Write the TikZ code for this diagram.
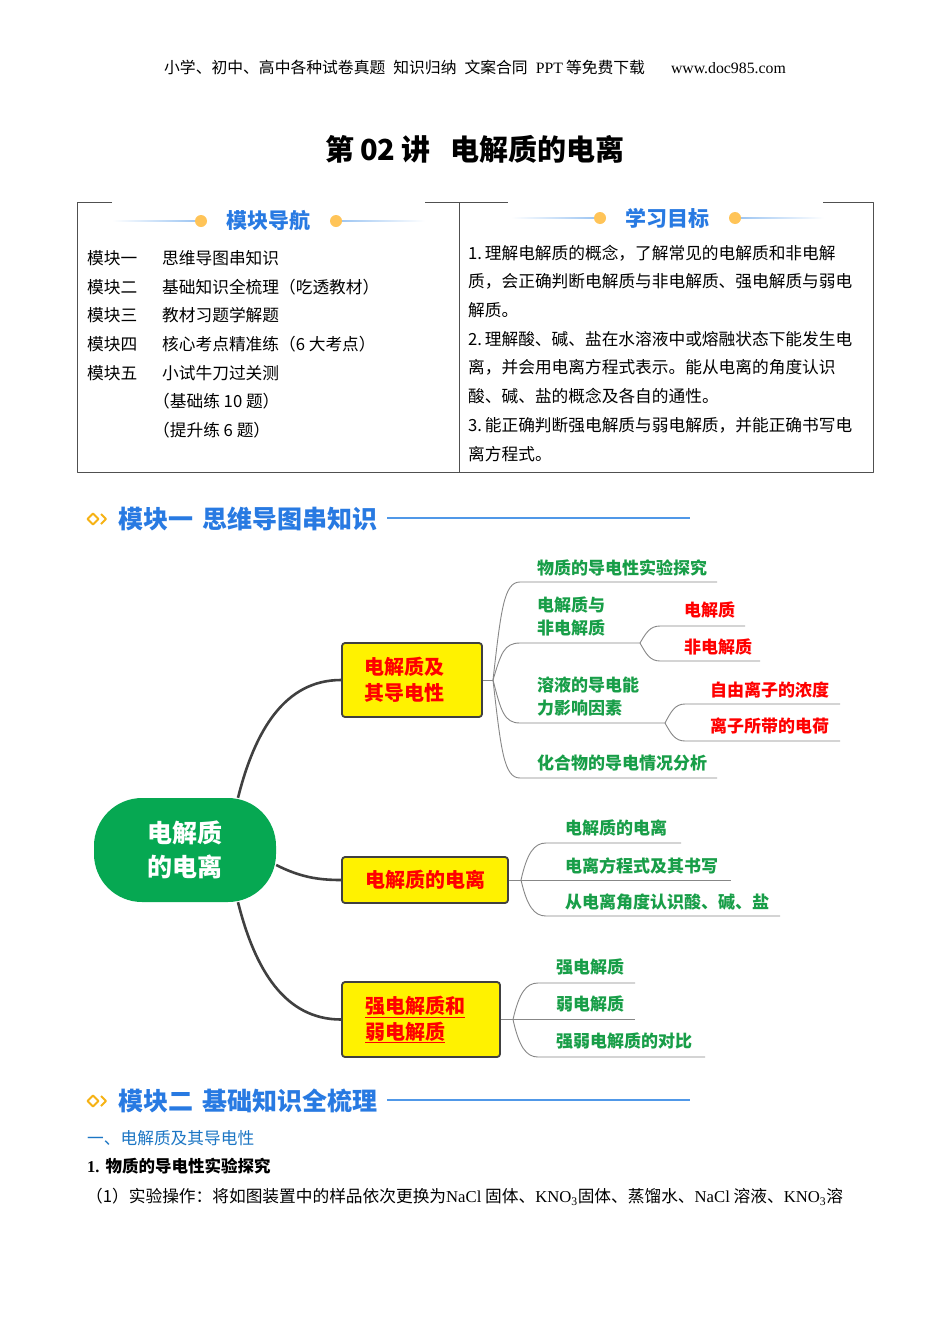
\documentclass[tikz,border=0pt]{standalone}
\usepackage{fontspec}
\setmainfont{Liberation Serif}
\newfontfamily\cjk{Noto Sans CJK SC}
\usetikzlibrary{positioning,calc}

\definecolor{navblue}{RGB}{40,122,226}
\definecolor{ruleblue}{RGB}{80,152,232}
\definecolor{dotorange}{RGB}{255,196,88}
\definecolor{iconorange}{RGB}{246,178,20}
\definecolor{leafgreen}{RGB}{24,158,72}
\definecolor{rootgreen}{RGB}{6,168,82}
\definecolor{secblue}{RGB}{28,118,196}
\definecolor{framegray}{RGB}{80,80,80}
\definecolor{trunkgray}{RGB}{64,64,64}
\definecolor{twiggray}{RGB}{135,135,135}

\newcommand{\fsz}[2]{\fontsize{#1}{#2}\selectfont}

\begin{document}
\begin{tikzpicture}[
x=1pt,y=-1pt,
line join=round,
txt/.style={
	anchor=west,
	inner sep=0pt,
	font=\cjk\fsz{16.7}{20}
},
head/.style={
	inner sep=0pt,
	text=navblue,
	font=\cjk\bfseries\fsz{21}{24}
},
modtitle/.style={
	anchor=west,
	inner sep=0pt,
	text=navblue,
	font=\cjk\bfseries\fsz{25}{28}
},
root/.style={
	fill=rootgreen,
	rounded corners=48pt,
	minimum width=182pt,
	minimum height=104pt,
	inner sep=0pt,
	align=center,
	text=white,
	font=\cjk\bfseries\fsz{25}{34}
},
topic/.style={
	draw=trunkgray,
	line width=1.8pt,
	fill=yellow,
	rounded corners=3pt,
	inner sep=0pt,
	text=red,
	font=\cjk\bfseries\fsz{20}{26}
},
leaf/.style={
	anchor=west,
	inner sep=0pt,
	align=left,
	text=leafgreen,
	font=\cjk\bfseries\fsz{17}{23}
},
redleaf/.style={
	leaf,
	text=red
},
trunk/.style={
	draw=trunkgray,
	line width=2.6pt
},
twig/.style={
	draw=twiggray,
	line width=0.9pt
}
]
\fill[white] (0,0) rectangle (950,1344);
\useasboundingbox (0,0) rectangle (950,1344);

% page banner and title
\node[inner sep=0pt,font=\cjk\fsz{15.8}{18}] (banner) at (475,67) {小学、初中、高中各种试卷真题\hspace{8pt}知识归纳\hspace{8pt}文案合同\hspace{8pt}{\rmfamily PPT}\hspace{3pt}等免费下载\hspace{26pt}{\rmfamily www.doc985.com}};
\node[inner sep=0pt,font=\cjk\bfseries\fsz{29}{32}] (title) at (475,149) {第\hspace{6pt}02\hspace{6pt}讲\hspace{20pt}电解质的电离};

% overview frame
\draw[framegray,line width=1pt] (112,202) -- (77,202) -- (77,472) -- (873,472) -- (873,202) -- (823,202);
\draw[framegray,line width=1pt] (425,202) -- (508,202) (459,202) -- (459,472);

\foreach \cx/\cy/\word/\nm in {268/221/模块导航/nav,667/218/学习目标/goal}{
	\fill[left color=white,right color=ruleblue!55] (\cx-156,\cy-0.7) rectangle (\cx-73,\cy+0.7);
	\fill[left color=ruleblue!55,right color=white] (\cx+74,\cy-0.7) rectangle (\cx+157,\cy+0.7);
	\fill[dotorange] (\cx-67,\cy) circle (6pt);
	\fill[dotorange] (\cx+68,\cy) circle (6pt);
	\node[head] (\nm) at (\cx,\cy) {\word};
}

\foreach \i/\lab/\what in {0/模块一/思维导图串知识,1/模块二/基础知识全梳理（吃透教材）,2/模块三/教材习题学解题,3/模块四/核心考点精准练（6 大考点）,4/模块五/小试牛刀过关测}{
	\node[txt] (lab\i) at (87,258+28.7*\i) {\lab};
	\node[txt] (what\i) at (162,258+28.7*\i) {\what};
}
\node[txt] (what5) at (153,401.5) {（基础练 10 题）};
\node[txt] (what6) at (153,430.2) {（提升练 6 题）};

\foreach \i/\aimtext in {0/1.\,理解电解质的概念，了解常见的电解质和非电解,1/质，会正确判断电解质与非电解质、强电解质与弱电,2/解质。,3/2.\,理解酸、碱、盐在水溶液中或熔融状态下能发生电,4/离，并会用电离方程式表示。能从电离的角度认识,5/酸、碱、盐的概念及各自的通性。,6/3.\,能正确判断强电解质与弱电解质，并能正确书写电,7/离方程式。}
\node[txt] (aim\i) at (468,253+28.7*\i) {\aimtext};

% module headings
\foreach \y/\word/\nm in {519/模块一\hspace{9pt}思维导图串知识/modone,1101/模块二\hspace{9pt}基础知识全梳理/modtwo}{
	\draw[iconorange,line width=1.8pt] (93,\y-5.5) -- (98.5,\y) -- (93,\y+5.5) -- (87.5,\y) -- cycle;
	\draw[iconorange,line width=1.8pt] (101,\y-5) -- (106,\y) -- (101,\y+5);
	\node[modtitle] (\nm) at (118,\y) {\word};
	\draw[ruleblue,line width=1.2pt] (387,\y-1) -- (690,\y-1);
}

% mind map
\node[root] (root) at (185,850) {电解质\\的电离};
\node[topic,minimum width=140pt,minimum height=74pt,align=left,text width=96pt] (conduct) at (412,680) {电解质及\\其导电性};
\node[topic,minimum width=166pt,minimum height=46pt] (ionize) at (425,880) {电解质的电离};
\node[topic,minimum width=158pt,minimum height=75pt,align=left,text width=112pt] (strong) at (421,1019.5) {\underline{强电解质和}\\\underline{弱电解质}};

\draw[trunk] ([xshift=53pt]root.north) .. controls (255,730) and (285,680) .. (conduct.west);
\draw[trunk] ([yshift=-15pt]root.east) .. controls (300,877) and (318,880) .. (ionize.west);
\draw[trunk] ([xshift=53pt]root.south) .. controls (255,970) and (285,1019.5) .. (strong.west);

% first branch
\coordinate (hubA) at (493,680);
\draw[twig] (conduct.east) -- (hubA);
\foreach \ey/\ex/\nm in {582/717/probe,643/640/kinds,723/665/factor,778/717/compound}{
	\coordinate (\nm-u) at (\ex,\ey);
	\draw[twig] (hubA) .. controls +(8,{0.72*(\ey-680)}) and +(-16,0) .. (520,\ey) -- (\nm-u);
}
\node[leaf] (probe) at (537,568) {物质的导电性实验探究};
\node[leaf] (kinds) at (537,616.5) {电解质与\\非电解质};
\node[leaf] (factor) at (537,696.5) {溶液的导电能\\力影响因素};
\node[leaf] (compound) at (537,763) {化合物的导电情况分析};

\foreach \ey/\ex in {626/745,661/760}
\draw[twig] (kinds-u) .. controls +(6,{0.6*(\ey-643)}) and +(-10,0) .. (660,\ey) -- (\ex,\ey);
\node[redleaf] (elyte) at (684,610) {电解质};
\node[redleaf] (nonelyte) at (684,647) {非电解质};

\foreach \ey in {704,741}
\draw[twig] (factor-u) .. controls +(6,{0.6*(\ey-723)}) and +(-10,0) .. (685,\ey) -- (840,\ey);
\node[redleaf] (conc) at (710,690) {自由离子的浓度};
\node[redleaf] (charge) at (710,726) {离子所带的电荷};

% second branch
\coordinate (hubB) at (521,880);
\draw[twig] (ionize.east) -- (hubB);
\foreach \ey/\ex in {843/681,880/731,916/780}
\draw[twig] (hubB) .. controls +(6,{0.72*(\ey-880)}) and +(-12,0) .. (546,\ey) -- (\ex,\ey);
\node[leaf] (ionlyte) at (565,828) {电解质的电离};
\node[leaf] (equation) at (565,866) {电离方程式及其书写};
\node[leaf] (acidbase) at (565,902) {从电离角度认识酸、碱、盐};

% third branch
\coordinate (hubC) at (513,1019.5);
\draw[twig] (strong.east) -- (hubC);
\foreach \ey/\ex in {983/635,1019.5/635,1057/705}
\draw[twig] (hubC) .. controls +(6,{0.72*(\ey-1019.5)}) and +(-12,0) .. (538,\ey) -- (\ex,\ey);
\node[leaf] (strongly) at (556,967) {强电解质};
\node[leaf] (weakly) at (556,1004) {弱电解质};
\node[leaf] (compare) at (556,1041) {强弱电解质的对比};

% start of module two
\node[txt,text=secblue] (secone) at (87,1138) {一、电解质及其导电性};
\node[txt,font=\cjk\bfseries\fsz{16.5}{20}] (topicone) at (87,1166) {{\rmfamily\bfseries 1.}\hspace{6pt}物质的导电性实验探究};
\node[txt,font=\cjk\fsz{16.7}{20}] (stepone) at (86,1197) {（1）实验操作：将如图装置中的样品依次更换为{\rmfamily NaCl} 固体、{\rmfamily KNO\textsubscript{3}}固体、蒸馏水、{\rmfamily NaCl} 溶液、{\rmfamily KNO\textsubscript{3}}溶};
\end{tikzpicture}
\end{document}
